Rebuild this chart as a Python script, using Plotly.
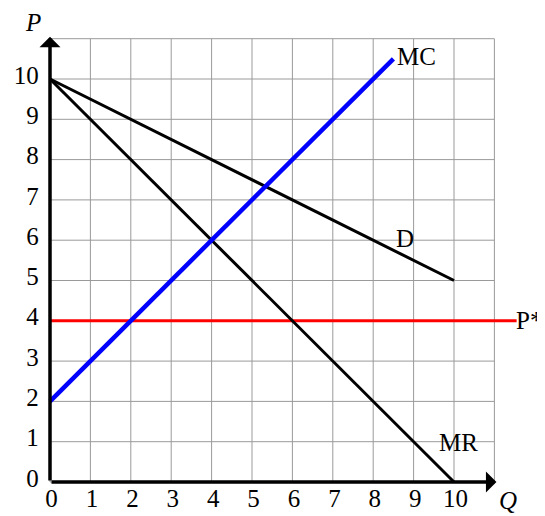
import plotly.graph_objects as go

# data
grid_vals = list(range(0, 12))
tick_vals = list(range(0, 11))
tick_text = [str(v) for v in tick_vals]

d_q = [0, 10]
d_p = [10, 5]
mr_q = [0, 10]
mr_p = [10, 0]
mc_q = [0, 8.5]
mc_p = [2, 10.5]
pstar_q = [0, 11.55]
pstar_p = [4, 4]

# pixel mapping (page body keeps an 8px margin, so the figure is 8px smaller)
W, H = 537, 508
X0, Y0 = 42, 474
UX, UY = 40.4, 40.3
x_range = [-X0 / UX, (W - X0) / UX]
y_range = [-(H - Y0) / UY, Y0 / UY]

FONT = "Liberation Serif, Times New Roman, serif"
FS = 25

fig = go.Figure()

# grid
gx, gy = [], []
for v in grid_vals:
    gx += [v, v, None]
    gy += [0, 11, None]
    gx += [0, 11, None]
    gy += [v, v, None]
fig.add_trace(go.Scatter(x=gx, y=gy, mode="lines",
                         line=dict(color="#9a9a9a", width=1), hoverinfo="skip"))

# curves
fig.add_trace(go.Scatter(x=pstar_q, y=pstar_p, mode="lines",
                         line=dict(color="#ff0000", width=3)))
fig.add_trace(go.Scatter(x=d_q, y=d_p, mode="lines",
                         line=dict(color="black", width=3)))
fig.add_trace(go.Scatter(x=mr_q, y=mr_p, mode="lines",
                         line=dict(color="black", width=3)))
fig.add_trace(go.Scatter(x=mc_q, y=mc_p, mode="lines",
                         line=dict(color="#0000ff", width=4.5)))

# tick labels
fig.add_trace(go.Scatter(x=[v + 0.04 for v in tick_vals], y=[-0.47] * len(tick_vals),
                         mode="text", text=tick_text, textposition="middle center",
                         textfont=dict(family=FONT, size=FS, color="black")))
fig.add_trace(go.Scatter(x=[-0.28] * len(tick_vals), y=[v + 0.04 for v in tick_vals],
                         mode="text", text=tick_text, textposition="middle left",
                         textfont=dict(family=FONT, size=FS, color="black")))

# curve labels
labels = [
    ("MC", 9.08, 10.57),
    ("D", 8.79, 6.03),
    ("MR", 10.1, 0.99),
]
for txt, lx, ly in labels:
    fig.add_annotation(x=lx, y=ly, text=txt, showarrow=False,
                       font=dict(family=FONT, size=FS, color="black"))
fig.add_annotation(x=11.5, y=4.0, text="P*", showarrow=False, xanchor="left",
                   borderpad=0, font=dict(family=FONT, size=FS, color="black"))
fig.add_annotation(x=-0.42, y=11.4, text="<i>P</i>", showarrow=False,
                   font=dict(family=FONT, size=FS, color="black"))
fig.add_annotation(x=11.34, y=-0.45, text="<i>Q</i>", showarrow=False,
                   font=dict(family=FONT, size=FS, color="black"))

# axes with arrows
fig.add_annotation(x=11.05, y=0, ax=0, ay=0, xref="x", yref="y", axref="x", ayref="y",
                   showarrow=True, arrowhead=1, arrowsize=1, arrowwidth=3.5,
                   arrowcolor="black", text="")
fig.add_annotation(x=0, y=11.05, ax=0, ay=0, xref="x", yref="y", axref="x", ayref="y",
                   showarrow=True, arrowhead=1, arrowsize=1, arrowwidth=3.5,
                   arrowcolor="black", text="")

fig.update_traces(cliponaxis=False, selector=dict(type="scatter"))
fig.update_layout(
    width=W, height=H,
    margin=dict(l=0, r=0, t=0, b=0),
    plot_bgcolor="white", paper_bgcolor="white",
    showlegend=False,
    xaxis=dict(range=x_range, visible=False, fixedrange=True),
    yaxis=dict(range=y_range, visible=False, fixedrange=True),
)

fig.write_html("out.html")
